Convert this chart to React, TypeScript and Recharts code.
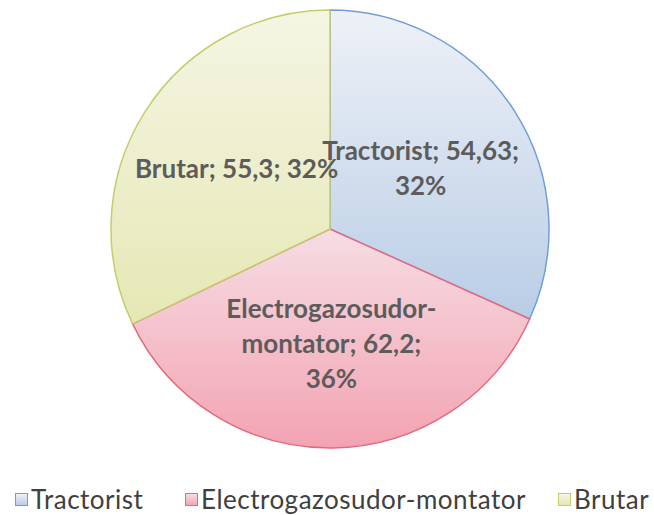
import { Pie, PieChart, Cell, Legend } from "recharts";

const categories = ["Tractorist", "Electrogazosudor-montator", "Brutar"];
const values = [54.63, 62.2, 55.3];
const percentLabels = ["32%", "36%", "32%"];
const valueLabels = ["54,63", "62,2", "55,3"];
// how each data label breaks into lines
const labelLines = [
  [`${categories[0]}; ${valueLabels[0]};`, percentLabels[0]],
  ["Electrogazosudor-", `montator; ${valueLabels[1]};`, percentLabels[1]],
  [`${categories[2]}; ${valueLabels[2]}; ${percentLabels[2]}`],
];

const strokes = ["#6f9fd6", "#e46a7e", "#c5cc6e"];
const gradTop = ["#eef1f7", "#f6dde3", "#f5f5e4"];
const gradBottom = ["#b9cde6", "#f3a3b3", "#e5e8b4"];
const legendLeft = [15, 185, 558];

const data = categories.map((name, i) => ({ name, value: values[i] }));

const RADIAN = Math.PI / 180;

const renderLabel = (props: any) => {
  const { cx, cy, midAngle, outerRadius, index } = props;
  const r = outerRadius * 0.52;
  const x = cx + r * Math.cos(-midAngle * RADIAN) + (index === 0 ? -5 : index === 2 ? 3 : 0);
  const y = cy + r * Math.sin(-midAngle * RADIAN);
  const lines = labelLines[index];
  const lh = 35;
  const y0 = y - ((lines.length - 1) * lh) / 2;
  return (
    <text
      x={x}
      y={y0}
      textAnchor="middle"
      dominantBaseline="central"
      fill="#5c5c5c"
      fontSize={26}
      fontWeight="bold"
      fontFamily="Lato, 'Open Sans', sans-serif"
    >
      {lines.map((l, k) => (
        <tspan key={k} x={x} y={y0 + k * lh}>
          {l}
        </tspan>
      ))}
    </text>
  );
};

const renderLegend = () => (
  <div
    style={{
      position: "relative",
      height: 30,
      fontFamily: "Lato, 'Open Sans', sans-serif",
      fontSize: 26,
      letterSpacing: 0.5,
      color: "#404040",
    }}
  >
    {categories.map((c, i) => (
      <div
        key={c}
        style={{ position: "absolute", left: legendLeft[i], top: 0, display: "flex", alignItems: "center", height: 30 }}
      >
        <span
          style={{
            display: "inline-block",
            width: 11,
            height: 11,
            border: `1.5px solid ${strokes[i]}`,
            background: `linear-gradient(${gradTop[i]}, ${gradBottom[i]})`,
            marginRight: 3,
          }}
        />
        <span>{c}</span>
      </div>
    ))}
  </div>
);

export default function App() {
  return (
    <div style={{ position: "absolute", left: 0, top: 0, width: 654, height: 515, background: "#fff" }}>
      <PieChart width={654} height={515} margin={{ top: 0, right: 0, bottom: 0, left: 0 }}>
        <defs>
          {categories.map((c, i) => (
            <linearGradient key={c} id={`grad${i}`} x1="0" y1="0" x2="0" y2="1">
              <stop offset="0%" stopColor={gradTop[i]} />
              <stop offset="100%" stopColor={gradBottom[i]} />
            </linearGradient>
          ))}
        </defs>
        <Pie
          data={data}
          dataKey="value"
          nameKey="name"
          cx={330}
          cy={229}
          outerRadius={219}
          startAngle={90}
          endAngle={-270}
          label={renderLabel}
          labelLine={false}
          isAnimationActive={false}
        >
          {data.map((d, i) => (
            <Cell key={d.name} fill={`url(#grad${i})`} stroke={strokes[i]} strokeWidth={1.5} />
          ))}
        </Pie>
        <Legend
          verticalAlign="bottom"
          content={renderLegend}
          wrapperStyle={{ bottom: 1, left: 0, width: 654 }}
        />
      </PieChart>
    </div>
  );
}
